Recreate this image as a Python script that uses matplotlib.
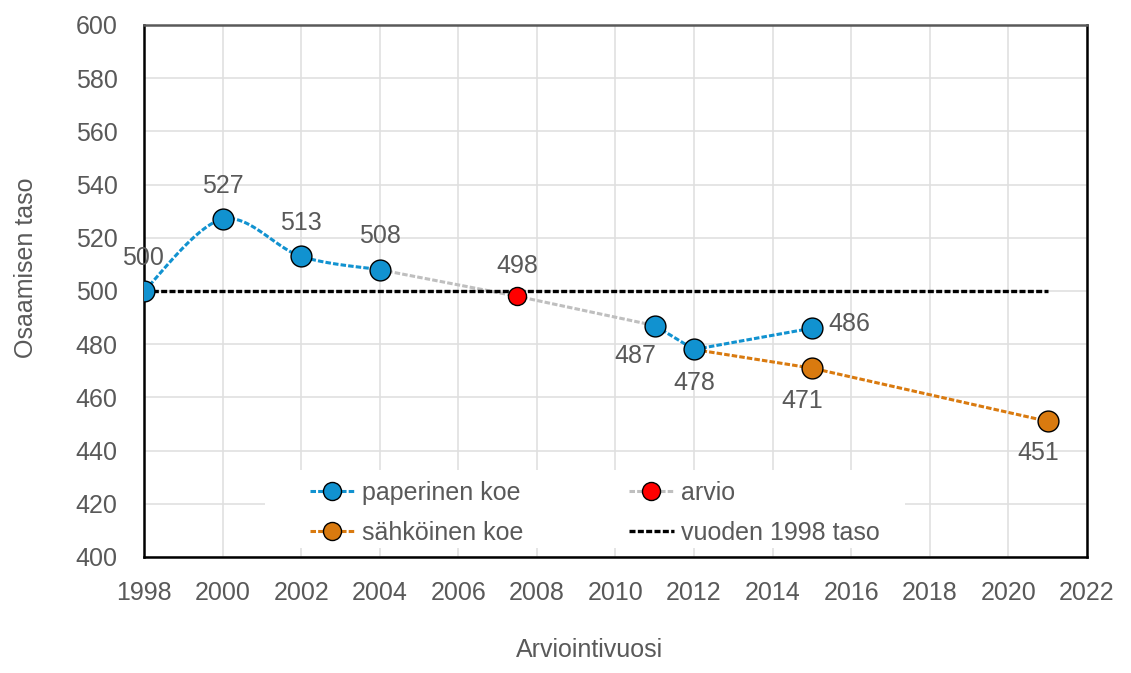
import numpy as np
import matplotlib.pyplot as plt
from matplotlib.lines import Line2D
from matplotlib.patches import Rectangle

# data
paper_years_a = [1998, 2000, 2002, 2004]
paper_vals_a = [500, 527, 513, 508]
paper_years_b = [2011, 2012, 2015]
paper_vals_b = [487, 478, 486]
est_years = [2004, 2007.5, 2011]
est_vals = [508, 498, 487]
elec_years = [2012, 2015, 2021]
elec_vals = [478, 471, 451]
base_years = [1998, 2021]
base_vals = [500, 500]

BLUE = '#1192D0'
ORANGE = '#D97A0F'
GRAY = '#BFBFBF'
RED = '#FF0000'
TXT = '#595959'
FS = 18

plt.rcParams['font.family'] = ['Liberation Sans', 'DejaVu Sans']


def smooth(xs, ys, n=40):
    # Catmull-Rom style smoothing like Excel's smoothed line
    xs = np.asarray(xs, float)
    ys = np.asarray(ys, float)
    px = np.concatenate([[xs[0]], xs, [xs[-1]]])
    py = np.concatenate([[ys[0]], ys, [ys[-1]]])
    ox, oy = [], []
    t = np.linspace(0, 1, n)
    for i in range(1, len(px) - 2):
        p0, p1, p2, p3 = (np.array([px[j], py[j]]) for j in (i - 1, i, i + 1, i + 2))
        c1 = p1 + (p2 - p0) / 6
        c2 = p2 - (p3 - p1) / 6
        b = ((1 - t) ** 3)[:, None] * p1 + (3 * (1 - t) ** 2 * t)[:, None] * c1 \
            + (3 * (1 - t) * t ** 2)[:, None] * c2 + (t ** 3)[:, None] * p2
        ox.extend(b[:, 0])
        oy.extend(b[:, 1])
    return ox, oy


fig = plt.figure(figsize=(11.31, 6.73), dpi=100)
ax = fig.add_axes([0.1273, 0.1724, 0.8337, 0.7905])

dash = (0, (1.8, 0.7))
lw = 2.2
ms = 15

ax.plot(base_years, base_vals, color='black', lw=2.4, ls=dash, zorder=3)

ax.plot(est_years, est_vals, color=GRAY, lw=lw, ls=dash, zorder=2)
sx, sy = smooth(paper_years_a, paper_vals_a)
ax.plot(sx, sy, color=BLUE, lw=lw, ls=dash, zorder=2)
ax.plot(paper_years_b, paper_vals_b, color=BLUE, lw=lw, ls=dash, zorder=2)
ax.plot(elec_years, elec_vals, color=ORANGE, lw=lw, ls=dash, zorder=2)

ax.plot(paper_years_a + paper_years_b, paper_vals_a + paper_vals_b, 'o', ms=ms,
        mfc=BLUE, mec='black', mew=1, zorder=4)
ax.plot(elec_years[1:], elec_vals[1:], 'o', ms=ms, mfc=ORANGE, mec='black', mew=1, zorder=4)
ax.plot(est_years[1], est_vals[1], 'o', ms=13, mfc=RED, mec='black', mew=1, zorder=4)

# data labels: (x, y, dx, dy) offsets in points, label centre
labels = [
    (1998, 500, -1, 24),
    (2000, 527, 0, 24),
    (2002, 513, 0, 24),
    (2004, 508, 0, 24),
    (2007.5, 498, 0, 22),
    (2011, 487, -14, -22),
    (2012, 478, 0, -24),
    (2015, 486, 27, 3),
    (2015, 471, -7, -24),
    (2021, 451, -7, -23),
]
for x, y, dx, dy in labels:
    ax.annotate(str(y), (x, y), xytext=(dx, dy), textcoords='offset points',
                ha='center', va='center', fontsize=FS, color=TXT, zorder=5)

ax.set_xlim(1998, 2022)
ax.set_ylim(400, 600)
ax.set_xticks(range(1998, 2023, 2))
ax.set_yticks(range(400, 601, 20))
ax.grid(True, color='#E0E0E0', lw=1.2)
ax.set_axisbelow(True)
ax.tick_params(length=0, labelsize=FS, labelcolor=TXT)
ax.tick_params(axis='x', pad=17)
ax.tick_params(axis='y', pad=19)

for s in ['left', 'bottom', 'right']:
    ax.spines[s].set_color('black')
    ax.spines[s].set_linewidth(1.8)
ax.spines['top'].set_color('#595959')
ax.spines['top'].set_linewidth(1.8)

ax.set_xlabel('Arviointivuosi', fontsize=FS, color=TXT)
ax.set_ylabel('Osaamisen taso', fontsize=FS, color=TXT)
ax.xaxis.set_label_coords(0.473, -0.152)
ax.yaxis.set_label_coords(-0.1125, 0.543)

# white legend background
ax.add_patch(Rectangle((0.1283, 0.0169), 0.6787, 0.1466, transform=ax.transAxes,
                       facecolor='white', edgecolor='none', zorder=5))

handles = [
    Line2D([], [], color=BLUE, ls=dash, lw=lw, marker='o', ms=13, mfc=BLUE, mec='black'),
    Line2D([], [], color=ORANGE, ls=dash, lw=lw, marker='o', ms=13, mfc=ORANGE, mec='black'),
    Line2D([], [], color=GRAY, ls=dash, lw=lw, marker='o', ms=13, mfc=RED, mec='black'),
    Line2D([], [], color='black', ls=dash, lw=2.4),
]
names = ['paperinen koe', 'sähköinen koe', 'arvio', 'vuoden 1998 taso']
leg = ax.legend(handles, names, ncol=2, loc='upper left', bbox_to_anchor=(0.176, 0.1435),
                frameon=False, fontsize=FS, handlelength=1.8, handletextpad=0.3,
                labelspacing=0.64, columnspacing=4.2, borderpad=0, borderaxespad=0)
for t in leg.get_texts():
    t.set_color(TXT)
leg.set_zorder(6)

fig.savefig('out.png', dpi=100)
